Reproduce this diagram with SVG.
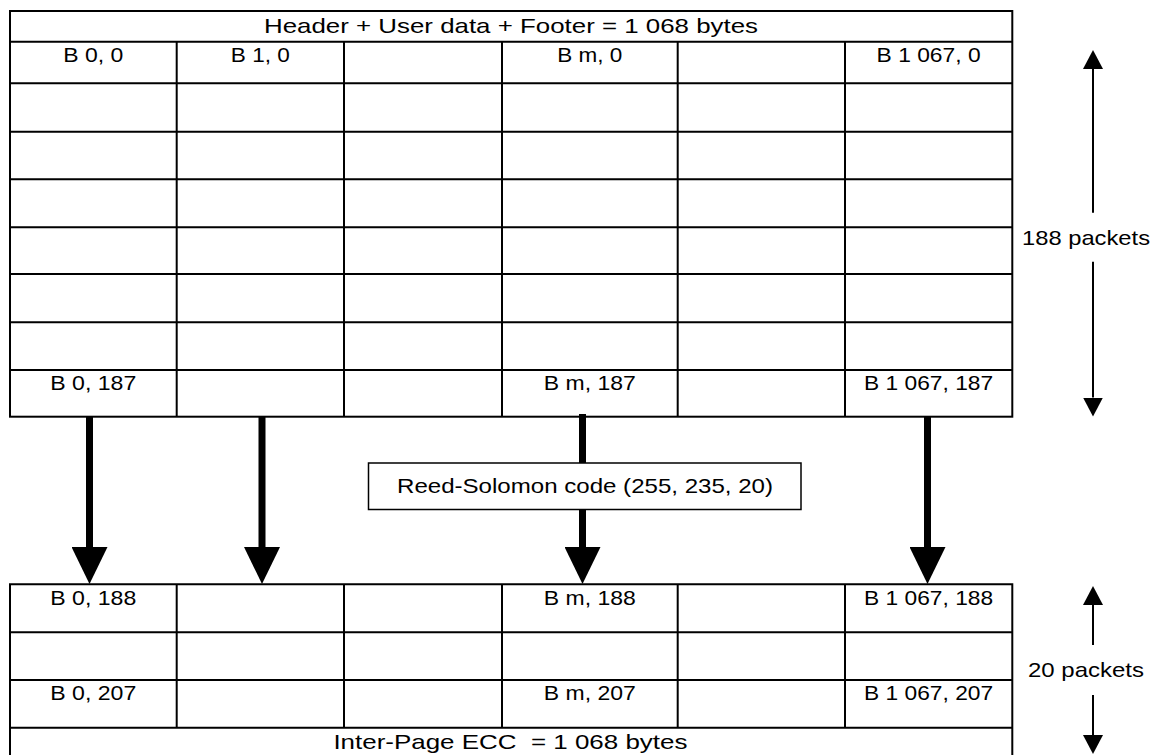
<svg xmlns="http://www.w3.org/2000/svg" width="1160" height="755" viewBox="0 0 1160 755">
<defs>
<style>
.grid{fill:none;stroke:#000;stroke-width:2}
.t{font-family:"Liberation Sans",Arial,sans-serif;font-size:21px;fill:#000;text-anchor:middle}
.big{stroke:#000;stroke-width:7;fill:none}
.thin{stroke:#000;stroke-width:2;fill:none}
</style>
<marker id="bighead" viewBox="0 0 37 36" markerWidth="37" markerHeight="36" markerUnits="userSpaceOnUse" refX="0" refY="18" orient="auto">
<path d="M0,0 L37,18 L0,36 Z" fill="#000"/>
</marker>
<marker id="smallhead" viewBox="0 0 19 20" markerWidth="19" markerHeight="20" markerUnits="userSpaceOnUse" refX="0" refY="10" orient="auto">
<path d="M0,0 L19,10 L0,20 Z" fill="#000"/>
</marker>
</defs>
<rect width="1160" height="755" fill="#fff"/>

<g id="connectors">
<line class="big" x1="89.5" y1="416" x2="89.5" y2="547" marker-end="url(#bighead)"/>
<line class="big" x1="262" y1="416" x2="262" y2="547" marker-end="url(#bighead)"/>
<line class="big" x1="582.5" y1="414" x2="582.5" y2="547" marker-end="url(#bighead)"/>
<line class="big" x1="927.5" y1="416" x2="927.5" y2="547" marker-end="url(#bighead)"/>
</g>

<g id="top-table">
<rect class="grid" x="10" y="11" width="1002.3" height="405.7"/>
<path class="grid" d="M10,41.7H1012.3 M10,83.3H1012.3 M10,131.7H1012.3 M10,179.3H1012.3 M10,227.3H1012.3 M10,274H1012.3 M10,322.3H1012.3 M10,370H1012.3 M176.7,41.7V416.7 M344,41.7V416.7 M502,41.7V416.7 M677.7,41.7V416.7 M845,41.7V416.7"/>
<text class="t" x="511" y="32.5" textLength="494" lengthAdjust="spacingAndGlyphs">Header + User data + Footer = 1 068 bytes</text>
<text class="t" x="93.3" y="62" textLength="60" lengthAdjust="spacingAndGlyphs">B 0, 0</text>
<text class="t" x="260.3" y="62" textLength="59" lengthAdjust="spacingAndGlyphs">B 1, 0</text>
<text class="t" x="589.8" y="62" textLength="65" lengthAdjust="spacingAndGlyphs">B m, 0</text>
<text class="t" x="928.6" y="62" textLength="104" lengthAdjust="spacingAndGlyphs">B 1 067, 0</text>
<text class="t" x="93.3" y="390" textLength="86" lengthAdjust="spacingAndGlyphs">B 0, 187</text>
<text class="t" x="589.8" y="390" textLength="92" lengthAdjust="spacingAndGlyphs">B m, 187</text>
<text class="t" x="928.6" y="390" textLength="129" lengthAdjust="spacingAndGlyphs">B 1 067, 187</text>
</g>

<g id="bottom-table">
<path class="grid" d="M10,770V584.3H1012.3V770 M10,632.3H1012.3 M10,680H1012.3 M10,727.7H1012.3 M176.7,584.3V727.7 M344,584.3V727.7 M502,584.3V727.7 M677.7,584.3V727.7 M845,584.3V727.7"/>
<text class="t" x="93.3" y="604.5" textLength="86" lengthAdjust="spacingAndGlyphs">B 0, 188</text>
<text class="t" x="589.8" y="604.5" textLength="92" lengthAdjust="spacingAndGlyphs">B m, 188</text>
<text class="t" x="928.6" y="604.5" textLength="129" lengthAdjust="spacingAndGlyphs">B 1 067, 188</text>
<text class="t" x="93.3" y="700" textLength="86" lengthAdjust="spacingAndGlyphs">B 0, 207</text>
<text class="t" x="589.8" y="700" textLength="92" lengthAdjust="spacingAndGlyphs">B m, 207</text>
<text class="t" x="928.6" y="700" textLength="129" lengthAdjust="spacingAndGlyphs">B 1 067, 207</text>
<text class="t" x="510.4" y="749" textLength="354" lengthAdjust="spacingAndGlyphs" xml:space="preserve">Inter-Page ECC  = 1 068 bytes</text>
</g>

<g id="rs-code">
<rect x="368.5" y="463" width="432.5" height="46.5" fill="#fff" stroke="#000" stroke-width="1.5"/>
<text class="t" x="585" y="493" textLength="376" lengthAdjust="spacingAndGlyphs">Reed-Solomon code (255, 235, 20)</text>
</g>

<g id="dim-188">
<line class="thin" x1="1093" y1="212.7" x2="1093" y2="69" marker-end="url(#smallhead)"/>
<line class="thin" x1="1093" y1="261.7" x2="1093" y2="397.5" marker-end="url(#smallhead)"/>
<text class="t" x="1086" y="244.5" textLength="128" lengthAdjust="spacingAndGlyphs">188 packets</text>
</g>

<g id="dim-20">
<line class="thin" x1="1093" y1="645" x2="1093" y2="605" marker-end="url(#smallhead)"/>
<line class="thin" x1="1093" y1="695" x2="1093" y2="735" marker-end="url(#smallhead)"/>
<text class="t" x="1086" y="676.5" textLength="116" lengthAdjust="spacingAndGlyphs">20 packets</text>
</g>
</svg>
